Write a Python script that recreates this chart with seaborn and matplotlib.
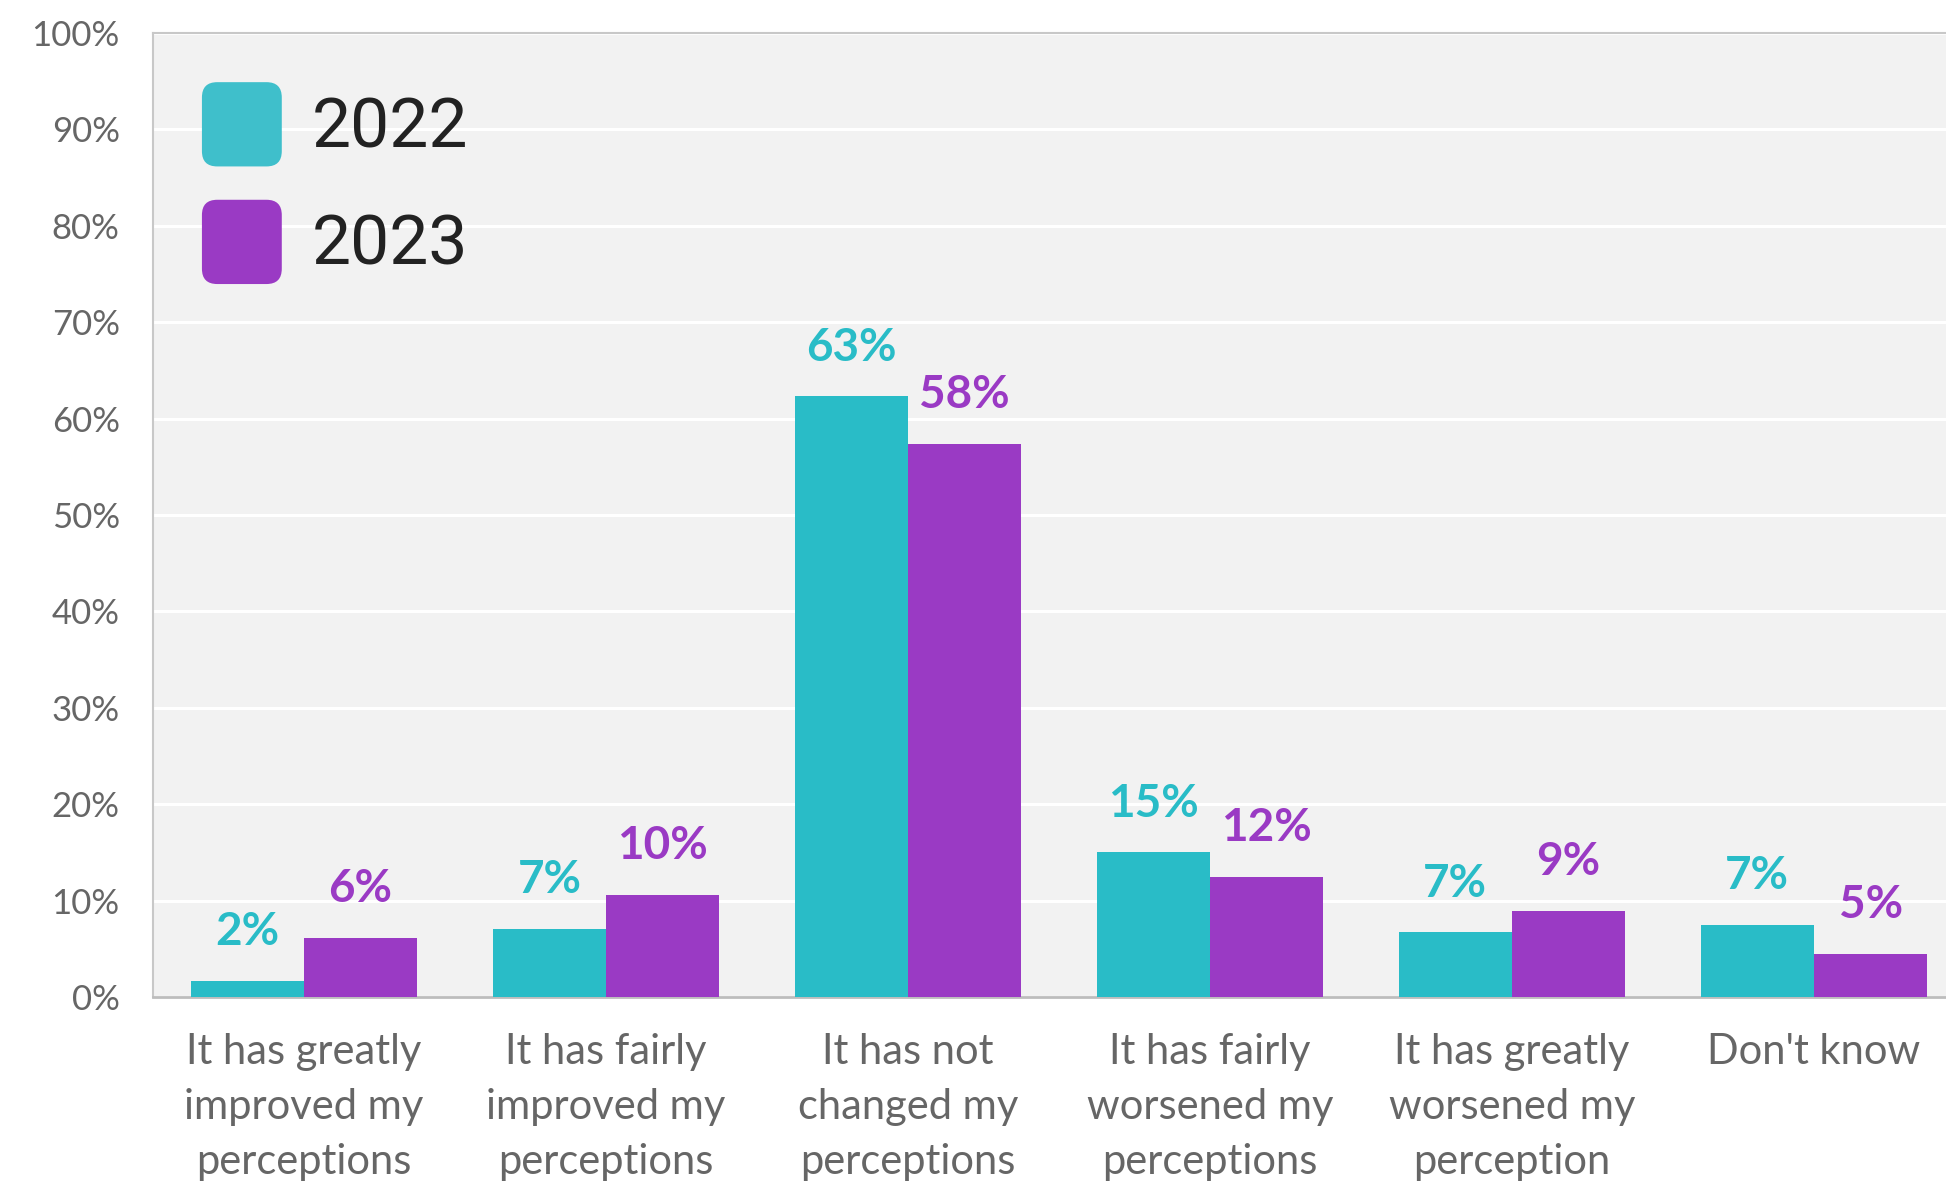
import pandas as pd
import seaborn as sns
import matplotlib.pyplot as plt
from matplotlib.patches import FancyBboxPatch
from matplotlib.legend_handler import HandlerPatch

# data
categories = [
    "It has greatly\nimproved my\nperceptions",
    "It has fairly\nimproved my\nperceptions",
    "It has not\nchanged my\nperceptions",
    "It has fairly\nworsened my\nperceptions",
    "It has greatly\nworsened my\nperception",
    "Don't know",
]
years = ["2022", "2023"]
# bar heights and the printed labels
values_2022 = [1.7, 7.1, 62.3, 15.0, 6.7, 7.5]
values_2023 = [6.1, 10.6, 57.4, 12.5, 8.9, 4.5]
labels_2022 = ["2%", "7%", "63%", "15%", "7%", "7%"]
labels_2023 = ["6%", "10%", "58%", "12%", "9%", "5%"]
yticks = [0, 10, 20, 30, 40, 50, 60, 70, 80, 90, 100]

teal = "#29BCC7"
purple = "#9A3AC4"
teal_leg = "#3FBFCB"

df = pd.DataFrame({
    "category": categories * 2,
    "year": [years[0]] * len(categories) + [years[1]] * len(categories),
    "value": values_2022 + values_2023,
})

sns.set_theme(style="white")
plt.rcParams['font.family'] = ['Lato', 'DejaVu Sans']

fig = plt.figure(figsize=(19.46, 11.85), dpi=100)
ax = fig.add_axes([153 / 1946, 1 - 997 / 1185, 1812 / 1946, 964 / 1185])
ax.set_facecolor("#F2F2F2")

sns.barplot(data=df, x="category", y="value", hue="year", palette=[teal, purple],
            width=0.75, saturation=1, gap=0, linewidth=0, ax=ax, legend=False,
            zorder=3)

ax.set_ylim(0, 100)
ax.set_xlim(-0.5, len(categories) - 0.5)
ax.set_yticks(yticks)
ax.set_yticklabels([f"{t}%" for t in yticks])
ax.yaxis.grid(True, color="white", linewidth=2.2, zorder=0)
ax.set_axisbelow(True)
ax.set_xlabel("")
ax.set_ylabel("")
ax.tick_params(axis="y", length=0, pad=24, labelsize=25, labelcolor="#666666")
ax.tick_params(axis="x", length=0, pad=26, labelsize=30, labelcolor="#666666")
for lbl in ax.get_xticklabels():
    lbl.set_linespacing(1.55)
    lbl.set_verticalalignment("top")

for side in ["top", "left"]:
    ax.spines[side].set_color("#C8C8C8")
    ax.spines[side].set_linewidth(1.5)
ax.spines["bottom"].set_color("#BDBDBD")
ax.spines["bottom"].set_linewidth(2)
ax.spines["right"].set_visible(False)

for cont, labs, col in zip(ax.containers, [labels_2022, labels_2023], [teal, purple]):
    ax.bar_label(cont, labels=labs, padding=20,
                 fontsize=33, fontweight="bold", color=col)


class RoundHandler(HandlerPatch):
    def create_artists(self, legend, orig_handle, xdescent, ydescent,
                       width, height, fontsize, trans):
        p = FancyBboxPatch((-xdescent, -ydescent), width, height,
                           boxstyle="round,pad=0,rounding_size=11",
                           facecolor=orig_handle.get_facecolor(),
                           edgecolor="none", transform=trans)
        return [p]


handles = [plt.Rectangle((0, 0), 1, 1, facecolor=c) for c in [teal_leg, purple]]
ax.legend(handles, years, loc="upper left", bbox_to_anchor=(0.027, 0.949),
          frameon=False, prop={"family": "Roboto", "size": 50},
          handlelength=1.15, handleheight=1.49,
          labelspacing=0.48, handletextpad=0.43, borderpad=0, borderaxespad=0,
          labelcolor="#222222",
          handler_map={plt.Rectangle: RoundHandler()})

fig.savefig("out.png", dpi=100)
